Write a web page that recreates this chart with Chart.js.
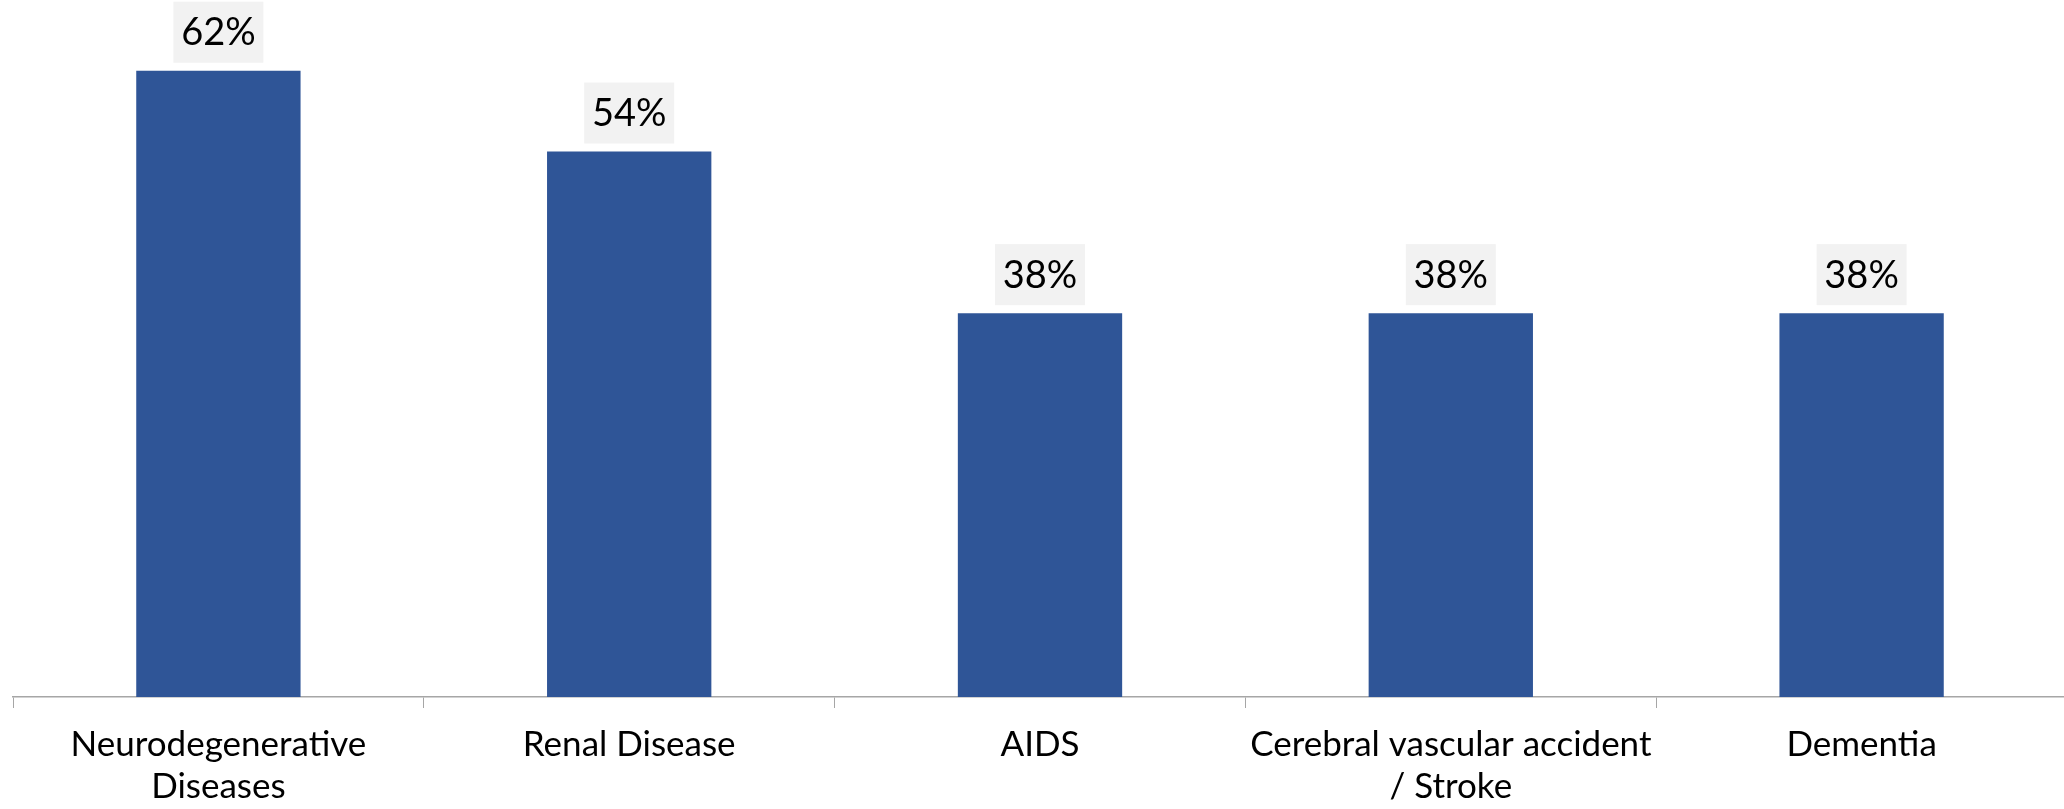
<!DOCTYPE html>
<html>
<head>
<meta charset="utf-8">
<script src="https://cdn.jsdelivr.net/npm/chart.js@4/dist/chart.umd.min.js"></script>
<style>
  html, body { margin: 0; padding: 0; background: #ffffff; overflow: hidden; }
  #wrap { width: 2064px; height: 809px; overflow: hidden; }
  canvas { display: block; }
</style>
</head>
<body>
<div id="wrap"><canvas id="chart" width="2067" height="809"></canvas></div>
<script>
// Conditions (each label split into its display lines)
const categories = [
  ["Neurodegenerative", "Diseases"],
  ["Renal Disease"],
  ["AIDS"],
  ["Cerebral vascular accident", "/ Stroke"],
  ["Dementia"]
];
// Share of respondents, in percent
const shares = [62, 54, 38, 38, 38];

const BAR_COLOR = "#2F5597";
const AXIS_COLOR = "#A6A6A6";
const FONT = "Lato, 'Open Sans', sans-serif";

// Value labels in a light grey box above each bar
const valueBoxes = {
  id: "valueBoxes",
  afterDatasetsDraw(chart) {
    const ctx = chart.ctx;
    const meta = chart.getDatasetMeta(0);
    const boxW = 90, boxH = 61, gap = 8;
    ctx.save();
    ctx.font = "38px " + FONT;
    ctx.textAlign = "center";
    ctx.textBaseline = "middle";
    meta.data.forEach((bar, i) => {
      const cx = bar.x;
      const bottom = bar.y - gap;
      ctx.fillStyle = "#F2F2F2";
      ctx.fillRect(cx - boxW / 2, bottom - boxH, boxW, boxH);
      ctx.fillStyle = "#000000";
      ctx.fillText(shares[i] + "%", cx, bottom - boxH / 2 + 1);
    });
    ctx.restore();
  }
};

new Chart(document.getElementById("chart"), {
  type: "bar",
  data: {
    labels: categories,
    datasets: [{
      data: shares,
      backgroundColor: BAR_COLOR,
      borderWidth: 0,
      barPercentage: 0.4,
      categoryPercentage: 1.0
    }]
  },
  options: {
    responsive: false,
    animation: false,
    layout: { padding: { left: 13, right: 0, top: 0, bottom: 0 } },
    plugins: {
      legend: { display: false },
      tooltip: { enabled: false }
    },
    scales: {
      x: {
        offset: true,
        grid: {
          display: true,
          offset: true,
          drawOnChartArea: false,
          drawTicks: true,
          tickLength: 11,
          color: AXIS_COLOR,
          lineWidth: 1
        },
        border: { display: true, color: AXIS_COLOR, width: 1.5 },
        ticks: {
          color: "#000000",
          padding: 16,
          maxRotation: 0,
          autoSkip: false,
          font: { family: FONT, size: 35, lineHeight: 1.19 }
        },
        afterFit(scale) { scale.height = 112; }
      },
      y: {
        display: false,
        min: 0,
        max: 69
      }
    }
  },
  plugins: [valueBoxes]
});
</script>
</body>
</html>
